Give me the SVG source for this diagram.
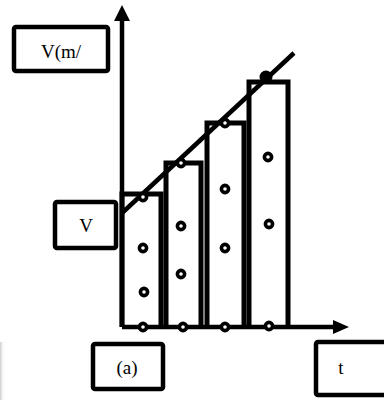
<svg xmlns="http://www.w3.org/2000/svg" width="384" height="400" viewBox="0 0 384 400">
<defs>
<style>
.box{fill:#fff;stroke:#000;stroke-width:4.5}
.lbl{font-family:"Liberation Serif","Times New Roman",serif;font-size:19px;fill:#000;text-anchor:middle}
.bar{fill:none;stroke:#000;stroke-width:5}
.ax{stroke:#000;stroke-width:4.5;fill:none}
.dot{fill:#fff;stroke:#000;stroke-width:3.6}
</style>
<linearGradient id="sh" x1="0" x2="1" y1="0" y2="0">
<stop offset="0" stop-color="#ccc"/><stop offset="1" stop-color="#fff" stop-opacity="0"/>
</linearGradient>
</defs>
<rect width="384" height="400" fill="#fff"/>
<rect x="0" y="342" width="5" height="58" fill="url(#sh)"/>
<g id="bars">
<path class="bar" d="M122,327 V194 H161 V327"/>
<path class="bar" d="M166,327 V163 H201 V327"/>
<path class="bar" d="M207,327 V123 H244 V327"/>
<path class="bar" d="M249,327 V82 H288 V327"/>
</g>
<g id="connectors">
<path class="ax" d="M122,327 V18"/>
<polygon points="122,5 114,21 130,21" fill="#000"/>
<path class="ax" d="M122,327 H336"/>
<polygon points="349,327 333,320 333,334" fill="#000"/>
<path class="ax" d="M122,213 L294,53"/>
</g>
<g id="dots">
<circle class="dot" cx="143" cy="197" r="3.6"/>
<circle class="dot" cx="143" cy="248" r="3.6"/>
<circle class="dot" cx="144" cy="292" r="3.6"/>
<circle class="dot" cx="143" cy="327" r="3.6"/>
<circle class="dot" cx="181" cy="163" r="3.6"/>
<circle class="dot" cx="181" cy="226" r="3.6"/>
<circle class="dot" cx="181" cy="274" r="3.6"/>
<circle class="dot" cx="183" cy="327" r="3.6"/>
<circle class="dot" cx="225" cy="123" r="3.6"/>
<circle class="dot" cx="225" cy="189" r="3.6"/>
<circle class="dot" cx="225" cy="248" r="3.6"/>
<circle class="dot" cx="225" cy="327" r="3.6"/>
<circle cx="266" cy="77" r="6.5" fill="#000"/>
<circle class="dot" cx="268" cy="157" r="3.6"/>
<circle class="dot" cx="269" cy="224" r="3.6"/>
<circle class="dot" cx="269" cy="326" r="3.6"/>
</g>
<g id="node-vm">
<rect class="box" x="14" y="27" width="94" height="44" rx="2"/>
<text class="lbl" x="61" y="58">V(m/</text>
</g>
<g id="node-v">
<rect class="box" x="55" y="202" width="61" height="46" rx="2"/>
<text class="lbl" x="86" y="232">V</text>
</g>
<g id="node-a">
<rect class="box" x="93" y="344" width="70" height="45" rx="2"/>
<text class="lbl" x="127" y="374">(a)</text>
</g>
<g id="node-t">
<rect class="box" x="316" y="342" width="80" height="53" rx="2"/>
<text class="lbl" x="341" y="374">t</text>
</g>
</svg>
